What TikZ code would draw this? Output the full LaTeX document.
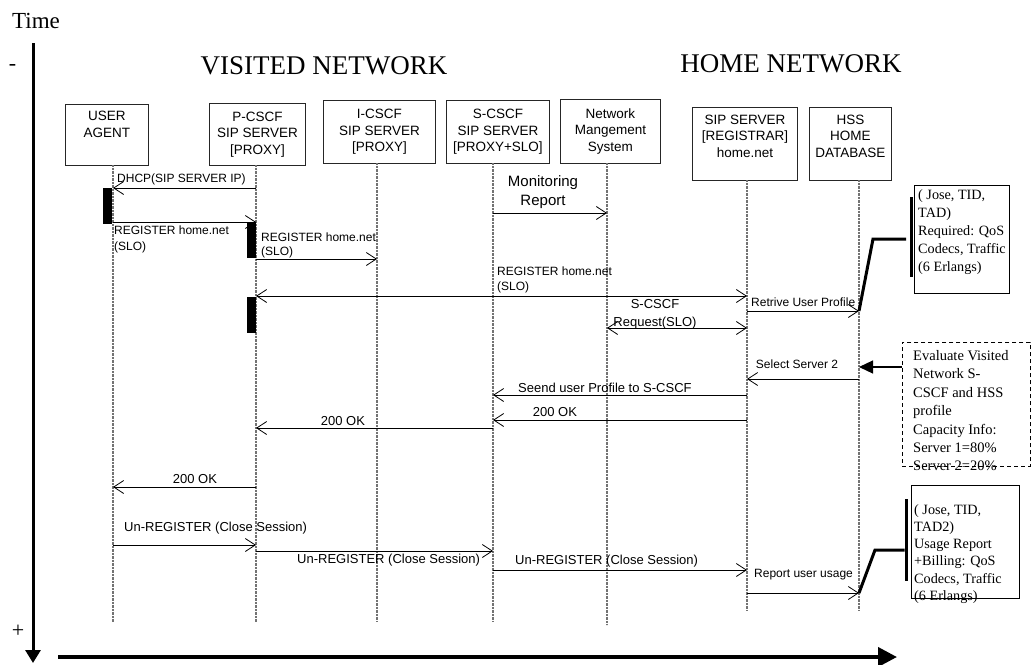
\documentclass[tikz,border=0pt]{standalone}
\usepackage{fontspec}
\setmainfont{Liberation Serif}
\setsansfont{Liberation Sans}
\usetikzlibrary{arrows.meta}
\tikzset{
  box/.style={draw=black!85, line width=0.8pt, inner sep=0pt, align=center, font=\sffamily\fontsize{13.5}{16.5}\selectfont, anchor=north west},
  life/.style={draw=black!55, line width=1.6pt, dash pattern=on 1pt off 0.4pt},
  msg/.style={draw=black, line width=0.8pt, -{Straight Barb[length=10pt,width=13pt]}},
  msgboth/.style={draw=black, line width=0.8pt, {Straight Barb[length=10pt,width=13pt]}-{Straight Barb[length=10pt,width=13pt]}},
  lbl/.style={inner sep=0pt, font=\sffamily\fontsize{12}{15.5}\selectfont},
  lblb/.style={inner sep=0pt, font=\sffamily\fontsize{13}{18}\selectfont},
  actbar/.style={fill=black, draw=none, inner sep=0pt, anchor=north west},
  notebox/.style={draw=black, line width=0.8pt, inner sep=0pt, anchor=north west},
  notetxt/.style={inner sep=0pt, anchor=north west, align=left, font=\rmfamily\fontsize{14.2}{18}\selectfont},
  thicklink/.style={line width=3pt, draw=black},
  ttl/.style={inner sep=0pt, font=\rmfamily\fontsize{27}{31}\selectfont},
}
\begin{document}
\begin{tikzpicture}[x=1pt,y=-1pt]
\useasboundingbox (0,0) rectangle (1033,664);
% axis and titles
\node[inner sep=0pt, anchor=west, font=\rmfamily\fontsize{23}{27}\selectfont] (time) at (12,20.5) {Time};
\node[inner sep=0pt, font=\rmfamily\fontsize{22}{26}\selectfont] (minus) at (12.5,67) {-};
\node[inner sep=0pt, font=\rmfamily\fontsize{22}{26}\selectfont] (plus) at (18,631) {+};
\coordinate (ax-top) at (33,43);
\coordinate (ax-bot) at (33,663);
\draw[line width=3pt, -{Triangle[length=13pt,width=15pt]}] (ax-top) -- (ax-bot);
\coordinate (bx-l) at (58,657);
\coordinate (bx-r) at (897,657);
\draw[line width=4pt, -{Triangle[length=19pt,width=19pt]}] (bx-l) -- (bx-r);
\node[ttl] (vis) at (324,66) {VISITED NETWORK};
\node[ttl] (home) at (791,64) {HOME NETWORK};
% boxes
\node[box, minimum width=83, minimum height=61] (ua) at (65,104) {USER\\AGENT\\\strut};
\node[box, minimum width=96, minimum height=62] (pc) at (209,103) {P-CSCF\\SIP SERVER\\{[PROXY]}};
\node[box, minimum width=112, minimum height=63] (ic) at (323,100) {I-CSCF\\SIP SERVER\\{[PROXY]}};
\node[box, minimum width=103, minimum height=63] (sc) at (446,100) {S-CSCF\\SIP SERVER\\{[PROXY+SLO]}};
\node[box, minimum width=100, minimum height=64] (nms) at (560,99) {Network\\Mangement\\System};
\node[box, minimum width=105, minimum height=73] (reg) at (692,107) {SIP SERVER\\{[REGISTRAR]}\\home.net\\[-6pt]\strut};
\node[box, minimum width=82, minimum height=73] (hss) at (809,107) {HSS\\HOME\\DATABASE\\[-6pt]\strut};
% lifelines
\coordinate (ua-l) at (113,165);  \coordinate (ua-e) at (113,622);
\coordinate (pc-l) at (256,165);  \coordinate (pc-e) at (256,622);
\coordinate (ic-l) at (377,163);  \coordinate (ic-e) at (377,622);
\coordinate (sc-l) at (493,163);  \coordinate (sc-e) at (493,622);
\coordinate (nms-l) at (607,163); \coordinate (nms-e) at (607,625);
\coordinate (reg-l) at (747,180); \coordinate (reg-e) at (747,610);
\coordinate (hss-l) at (859,180); \coordinate (hss-e) at (859,610);
\foreach \n in {ua,pc,ic,sc,nms,reg,hss} {\draw[life] (\n-l) -- (\n-e);}
% activation bars
\node[actbar, minimum width=9, minimum height=36] (b1) at (103,188) {};
\node[actbar, minimum width=9, minimum height=36] (b2) at (247,222) {};
\node[actbar, minimum width=9, minimum height=36] (b3) at (247,297) {};
% messages
\draw[msg] (pc-l |- 0,188) -- (ua-l |- 0,188);
\node[lbl, anchor=west] (m1) at (117,179) {DHCP(SIP SERVER IP)};
\draw[msg] (sc-l |- 0,213) -- (nms-l |- 0,213);
\node[lbl, font=\sffamily\fontsize{15}{19}\selectfont, align=center] (m2) at (543,192.5) {Monitoring\\Report};
\draw[msg] (ua-l |- 0,222) -- (pc-l |- 0,222);
\node[lbl, anchor=west, align=left, font=\sffamily\fontsize{12}{16}\selectfont] (m3) at (114,239) {REGISTER home.net\\(SLO)};
\draw[msg] (pc-l |- 0,259) -- (ic-l |- 0,259);
\node[lbl, anchor=west, align=left, font=\sffamily\fontsize{12}{13.5}\selectfont] (m4) at (261,245.5) {REGISTER home.net\\(SLO)};
\draw[msgboth] (pc-l |- 0,296) -- (reg-l |- 0,296);
\node[lbl, anchor=west, align=left, font=\sffamily\fontsize{12}{15}\selectfont] (m5) at (497,279.5) {REGISTER home.net\\(SLO)};
\draw[msg] (reg-l |- 0,311) -- (hss-l |- 0,311);
\node[lbl, anchor=west] (m6) at (751,302) {Retrive User Profile};
\draw[msgboth] (nms-l |- 0,328) -- (reg-l |- 0,328);
\node[lblb, align=center] (m7) at (655,314) {S-CSCF\\Request(SLO)};
\draw[msg] (hss-l |- 0,379) -- (reg-l |- 0,379);
\node[lbl] (m8) at (797,364) {Select Server 2};
\draw[msg] (reg-l |- 0,395) -- (sc-l |- 0,395);
\node[lblb, anchor=west] (m9) at (518,388) {Seend user Profile to S-CSCF};
\draw[msg] (reg-l |- 0,420) -- (sc-l |- 0,420);
\node[lblb] (m10) at (555,412) {200 OK};
\draw[msg] (sc-l |- 0,428) -- (pc-l |- 0,428);
\node[lblb] (m11) at (343,421) {200 OK};
\draw[msg] (pc-l |- 0,487) -- (ua-l |- 0,487);
\node[lblb] (m12) at (195,479) {200 OK};
\draw[msg] (ua-l |- 0,545) -- (pc-l |- 0,545);
\node[lblb, anchor=west] (m13) at (124,528) {Un-REGISTER (Close Session)};
\draw[msg] (pc-l |- 0,551) -- (sc-l |- 0,551);
\node[lblb, anchor=west] (m14) at (297,560) {Un-REGISTER (Close Session)};
\draw[msg] (sc-l |- 0,570) -- (reg-l |- 0,570);
\node[lblb, anchor=west] (m15) at (515,561) {Un-REGISTER (Close Session)};
\draw[msg] (reg-l |- 0,593) -- (hss-l |- 0,593);
\node[lbl, anchor=west] (m16) at (754,575) {Report user usage};
% note 1
\node[notebox, minimum width=95, minimum height=108] (n1) at (914,185) {};
\node[notetxt] (n1t) at (918,189.8) {( Jose, TID,\\TAD)\\Required: QoS\\Codecs, Traffic\\(6 Erlangs)};
\node[actbar, minimum width=3, minimum height=80] (n1bar) at (909.5,197) {};
\coordinate (n1k) at (873,239);
\coordinate (n1h) at (906,239);
\draw[thicklink] (hss-l |- 0,311) -- (n1k) -- (n1h);
% note 2
\node[notebox, minimum width=108, minimum height=113] (n2) at (911,485) {};
\node[notetxt, font=\rmfamily\fontsize{14.2}{17.3}\selectfont] (n2t) at (914,504) {( Jose, TID,\\TAD2)\\Usage Report\\+Billing: QoS\\Codecs, Traffic\\(6 Erlangs)};
\node[actbar, minimum width=3, minimum height=82] (n2bar) at (904.5,499) {};
\coordinate (n2k) at (875,550);
\draw[thicklink] (hss-l |- 0,593) -- (n2k) -- (n2k -| n2bar.west);
% evaluate box
\node[notebox, dashed, dash pattern=on 4pt off 3pt, minimum width=128, minimum height=124] (ev) at (902,342) {};
\node[notetxt, font=\rmfamily\fontsize{14.5}{18.4}\selectfont] (evt) at (913,350.3) {Evaluate Visited\\Network S-\\CSCF and HSS\\profile\\Capacity Info:\\Server 1=80\%\\Server 2=20\%};
\draw[line width=1.2pt, -{Triangle[length=14pt,width=13pt]}] (ev.west |- 0,367) -- (hss-l |- 0,367);
\end{tikzpicture}
\end{document}
